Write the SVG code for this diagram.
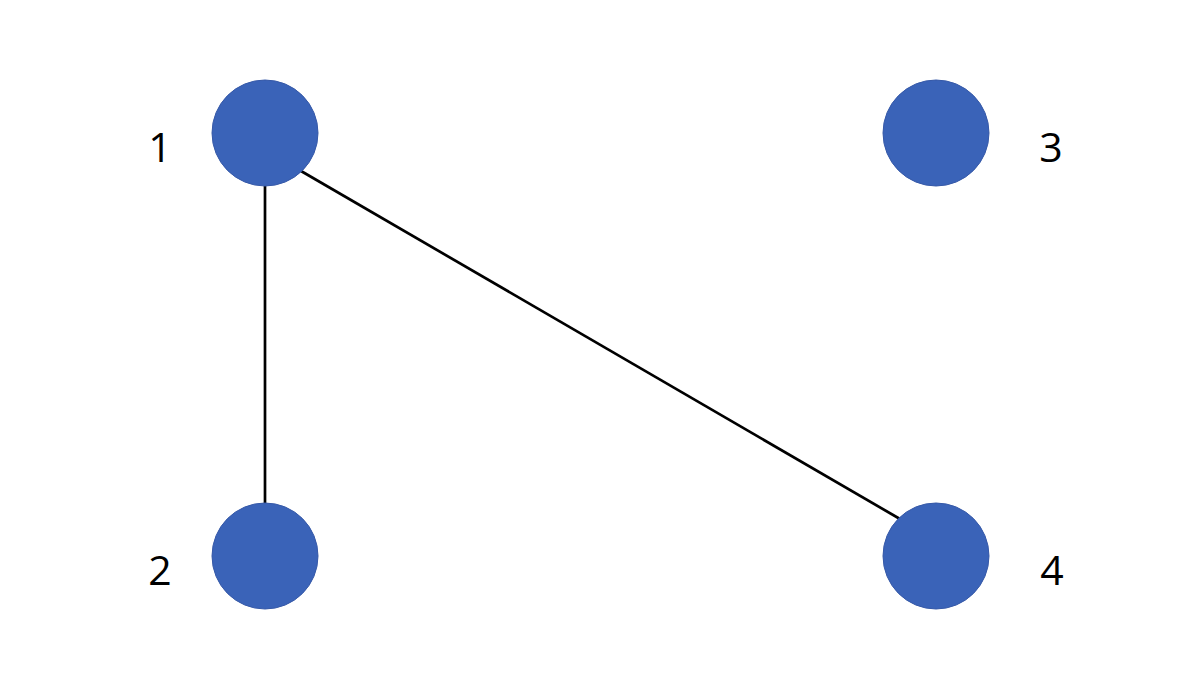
<svg xmlns="http://www.w3.org/2000/svg" width="1200" height="675" viewBox="0 0 1200 675">
<style>
.node{fill:#3A63B8;stroke:#3659A8;stroke-width:1}
.lbl{font-family:"Open Sans","Liberation Sans",Arial,sans-serif;font-size:41px;font-weight:500;fill:#000;text-anchor:middle}
.edge{stroke:#000;stroke-width:2.7;fill:none}
</style>
<rect width="1200" height="675" fill="#fff"/>
<g id="connectors">
<line class="edge" x1="265" y1="186" x2="265" y2="503"/>
<line class="edge" x1="301" y1="171" x2="900" y2="519"/>
</g>
<g id="node1"><circle class="node" cx="265" cy="133" r="53"/><text class="lbl" x="160" y="162">1</text></g>
<g id="node2"><circle class="node" cx="265" cy="556" r="53"/><text class="lbl" x="160" y="585">2</text></g>
<g id="node3"><circle class="node" cx="936" cy="133" r="53"/><text class="lbl" x="1051" y="162">3</text></g>
<g id="node4"><circle class="node" cx="936" cy="556" r="53"/><text class="lbl" x="1052" y="585">4</text></g>
</svg>
